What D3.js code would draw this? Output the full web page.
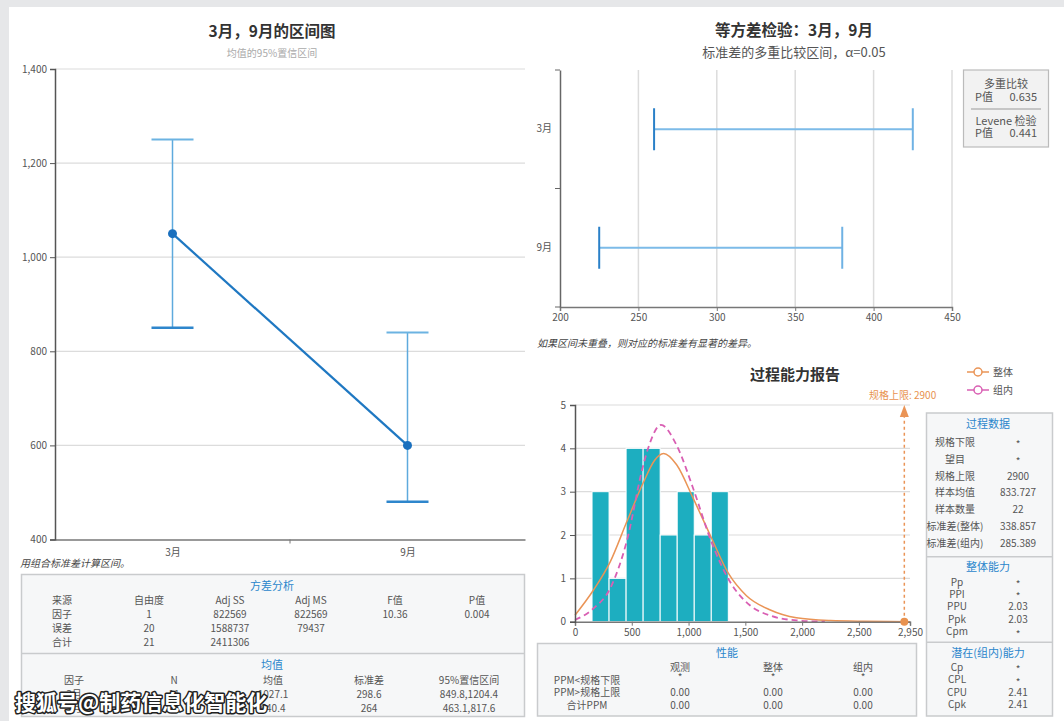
<!DOCTYPE html>
<html><head><meta charset="utf-8">
<script src="https://cdn.jsdelivr.net/npm/d3@7"></script>
<style>
body{margin:0;background:#fff}
svg{display:block}
text{font-family:"Noto Sans CJK SC","Noto Sans",sans-serif}
</style>
</head><body><svg id="c" width="1064" height="721"></svg>
<script>
// ---------- data ----------
const categories = ["3月", "9月"];
const meanValues = [1050, 600];
const ciLower = [850, 480];
const ciUpper = [1250, 840];
const meanTicks = [400, 600, 800, 1000, 1200, 1400];

const sdCategories = ["3月", "9月"];
const sdLower = [260, 225];
const sdUpper = [425, 380];
const sdTicks = [200, 250, 300, 350, 400, 450];
const multiCompP = "0.635";
const leveneP = "0.441";

const binLeft = [150, 300, 450, 600, 750, 900, 1050, 1200];
const binRight = [300, 450, 600, 750, 900, 1050, 1200, 1350];
const binCounts = [3, 1, 4, 4, 2, 3, 2, 3];
const histXTicks = [0, 500, 1000, 1500, 2000, 2500, 2950];
const histYTicks = [0, 1, 2, 3, 4, 5];
const overallCurveX = [0, 160, 310, 455, 600, 700, 780, 895, 1040, 1190, 1350, 1510, 1720, 1950, 2250, 2540, 2950];
const overallCurveY = [0.15, 0.72, 1.38, 2.3, 3.2, 3.72, 3.88, 3.62, 2.85, 2.0, 1.12, 0.6, 0.27, 0.09, 0.025, 0.008, 0];
const withinCurveX = [0, 160, 310, 455, 600, 650, 757, 895, 1040, 1200, 1365, 1540, 1720, 1950, 2200];
const withinCurveY = [0.04, 0.3, 0.77, 1.85, 3.6, 4.05, 4.54, 4.07, 3.08, 1.85, 0.92, 0.38, 0.14, 0.03, 0];
const usl = 2900;

const anovaHeader = ["来源", "自由度", "Adj SS", "Adj MS", "F值", "P值"];
const anovaRows = [
  ["因子", "1", "822569", "822569", "10.36", "0.004"],
  ["误差", "20", "1588737", "79437", "", ""],
  ["合计", "21", "2411306", "", "", ""]
];
const meansHeader = ["因子", "N", "均值", "标准差", "95%置信区间"];
const meansRows = [
  ["3月", "11", "1027.1", "298.6", "849.8,1204.4"],
  ["9月", "11", "640.4", "264", "463.1,817.6"]
];
const perfHeader = ["观测", "整体", "组内"];
const perfLabels = ["PPM<规格下限", "PPM>规格上限", "合计PPM"];
const perfRows = [["*", "*", "*"], ["0.00", "0.00", "0.00"], ["0.00", "0.00", "0.00"]];
const processLabels = ["规格下限", "望目", "规格上限", "样本均值", "样本数量", "标准差(整体)", "标准差(组内)"];
const processValues = ["*", "*", "2900", "833.727", "22", "338.857", "285.389"];
const overallCapLabels = ["Pp", "PPI", "PPU", "Ppk", "Cpm"];
const overallCapValues = ["*", "*", "2.03", "2.03", "*"];
const withinCapLabels = ["Cp", "CPL", "CPU", "Cpk"];
const withinCapValues = ["*", "*", "2.41", "2.41"];

// ---------- helpers ----------
const svg = d3.select("#c");
const TXT = "#555";
function txt(x, y, s, o = {}) {
  return svg.append("text").attr("x", x).attr("y", y).text(s)
    .attr("text-anchor", o.anchor || "middle")
    .attr("font-size", o.size || 10)
    .attr("font-weight", o.weight || "normal")
    .attr("font-style", o.style || "normal")
    .attr("fill", o.fill || TXT);
}
function styleAxis(g, col, w) {
  g.select(".domain").attr("stroke", col).attr("stroke-width", w);
  g.selectAll(".tick line").attr("stroke", col).attr("stroke-width", 1);
  g.selectAll(".tick text").attr("fill", TXT).attr("font-size", 10)
    .attr("font-family", '"Noto Sans CJK SC","Noto Sans",sans-serif');
}

// background frame
svg.append("rect").attr("x", 0).attr("y", 0).attr("width", 1064).attr("height", 721).attr("fill", "#e6e7e9");
svg.append("rect").attr("x", 9).attr("y", 7).attr("width", 1055).attr("height", 714).attr("fill", "#fff");

// ---------- left: interval plot ----------
const y1 = d3.scaleLinear().domain([400, 1400]).range([539.5, 69]);
const x1 = d3.scalePoint().domain(categories).range([55, 525]).padding(0.5);

txt(272, 37, "3月，9月的区间图", { size: 15.5, weight: "bold", fill: "#333" });
txt(272, 57, "均值的95%置信区间", { size: 10, fill: "#aaa" });

svg.append("g").selectAll("line").data(meanTicks.filter(d => d > 400)).join("line")
  .attr("x1", 55).attr("x2", 525).attr("y1", d => y1(d)).attr("y2", d => y1(d))
  .attr("stroke", "#dcdcdc").attr("stroke-width", 1.2);

const gx1 = svg.append("g").attr("transform", `translate(0,${y1(400)})`)
  .call(d3.axisBottom(x1).tickSize(0).tickPadding(9));
styleAxis(gx1, "#999", 2);
const mid1 = (x1(categories[0]) + x1(categories[1])) / 2;
svg.append("line").attr("x1", mid1).attr("x2", mid1).attr("y1", y1(400)).attr("y2", y1(400) + 4)
  .attr("stroke", "#777").attr("stroke-width", 1);
const gy1 = svg.append("g").attr("transform", "translate(55,0)")
  .call(d3.axisLeft(y1).tickValues(meanTicks).tickSize(5).tickPadding(3).tickFormat(d3.format(",")));
styleAxis(gy1, "#555", 1.5);

categories.forEach((c, i) => {
  const cx = x1(c);
  svg.append("line").attr("x1", cx).attr("x2", cx).attr("y1", y1(ciLower[i])).attr("y2", y1(ciUpper[i]))
    .attr("stroke", "#5eaadd").attr("stroke-width", 1.5);
  svg.append("line").attr("x1", cx - 21).attr("x2", cx + 21).attr("y1", y1(ciUpper[i])).attr("y2", y1(ciUpper[i]))
    .attr("stroke", "#6cb3e2").attr("stroke-width", 2);
  svg.append("line").attr("x1", cx - 21).attr("x2", cx + 21).attr("y1", y1(ciLower[i])).attr("y2", y1(ciLower[i]))
    .attr("stroke", "#2e86cc").attr("stroke-width", 2.5);
});
svg.append("path").datum(categories.map((c, i) => [x1(c), y1(meanValues[i])]))
  .attr("d", d3.line()).attr("fill", "none").attr("stroke", "#1f78c2").attr("stroke-width", 2.2);
svg.append("g").selectAll("circle").data(categories).join("circle")
  .attr("cx", d => x1(d)).attr("cy", (d, i) => y1(meanValues[i])).attr("r", 4.5).attr("fill", "#1a70be");

txt(20, 567, "用组合标准差计算区间。", { anchor: "start", style: "italic", fill: "#444" });

// ANOVA / means table
svg.append("rect").attr("x", 21.5).attr("y", 574.5).attr("width", 503).attr("height", 142)
  .attr("fill", "#f6f7f8").attr("stroke", "#c9cbcd").attr("stroke-width", 1.5);
svg.append("line").attr("x1", 21.5).attr("x2", 524.5).attr("y1", 653.5).attr("y2", 653.5)
  .attr("stroke", "#c9cbcd").attr("stroke-width", 1.5);
txt(272, 590, "方差分析", { size: 11, fill: "#2a86cc" });
const anovaX = [62, 149, 230, 311, 395, 477];
anovaHeader.forEach((h, j) => txt(anovaX[j], 604, h));
anovaRows.forEach((r, i) => r.forEach((v, j) => txt(anovaX[j], 618 + i * 14, v)));
txt(272, 669, "均值", { size: 11, fill: "#2a86cc" });
const meansX = [74, 174, 273, 369, 469];
meansHeader.forEach((h, j) => txt(meansX[j], 684, h));
meansRows.forEach((r, i) => r.forEach((v, j) => txt(meansX[j], 698 + i * 14, v)));

// ---------- right top: equal variances ----------
const x2 = d3.scaleLinear().domain([200, 450]).range([560, 952]);
const y2 = d3.scaleBand().domain(sdCategories).range([70, 307]);

txt(794, 36, "等方差检验：3月，9月", { size: 15.5, weight: "bold", fill: "#333" });
txt(794, 57, "标准差的多重比较区间，α=0.05", { size: 13, fill: "#555" });

svg.append("g").selectAll("line").data(sdTicks.filter(d => d > 200)).join("line")
  .attr("x1", d => x2(d)).attr("x2", d => x2(d)).attr("y1", 70).attr("y2", 307)
  .attr("stroke", "#dcdcdc").attr("stroke-width", 1.5);
const gx2 = svg.append("g").attr("transform", "translate(0,307)")
  .call(d3.axisBottom(x2).tickValues(sdTicks).tickSize(4).tickPadding(3));
styleAxis(gx2, "#777", 1.5);
const gy2 = svg.append("g").attr("transform", "translate(560,0)")
  .call(d3.axisLeft(y2).tickSize(0).tickPadding(8));
styleAxis(gy2, "#666", 1.5);
const bandEdges = [70, y2(sdCategories[1]), 307];
svg.append("g").selectAll("line").data(bandEdges).join("line")
  .attr("x1", 555).attr("x2", 560).attr("y1", d => d).attr("y2", d => d)
  .attr("stroke", "#666").attr("stroke-width", 1);

sdCategories.forEach((c, i) => {
  const cy = y2(c) + y2.bandwidth() / 2;
  svg.append("line").attr("x1", x2(sdLower[i])).attr("x2", x2(sdUpper[i])).attr("y1", cy).attr("y2", cy)
    .attr("stroke", "#7dbbe8").attr("stroke-width", 2);
  svg.append("line").attr("x1", x2(sdLower[i])).attr("x2", x2(sdLower[i])).attr("y1", cy - 21).attr("y2", cy + 21)
    .attr("stroke", "#2a80c8").attr("stroke-width", 2);
  svg.append("line").attr("x1", x2(sdUpper[i])).attr("x2", x2(sdUpper[i])).attr("y1", cy - 21).attr("y2", cy + 21)
    .attr("stroke", "#6fb2e4").attr("stroke-width", 2);
});

svg.append("rect").attr("x", 963.5).attr("y", 70).attr("width", 85).attr("height", 77)
  .attr("fill", "#f2f2f2").attr("stroke", "#bbb").attr("stroke-width", 1.2);
txt(1006, 88, "多重比较", { size: 11 });
txt(975, 101, "P值", { size: 11, anchor: "start" });
txt(1037, 101, multiCompP, { size: 11, anchor: "end" });
svg.append("line").attr("x1", 971).attr("x2", 1041).attr("y1", 109).attr("y2", 109).attr("stroke", "#999").attr("stroke-width", 1.2);
txt(1006, 125, "Levene 检验", { size: 11 });
txt(975, 137, "P值", { size: 11, anchor: "start" });
txt(1037, 137, leveneP, { size: 11, anchor: "end" });

txt(537, 347, "如果区间未重叠，则对应的标准差有显著的差异。", { anchor: "start", style: "italic", fill: "#444" });

// ---------- right bottom: capability ----------
const x3 = d3.scaleLinear().domain([0, 2950]).range([575, 910]);
const y3 = d3.scaleLinear().domain([0, 5]).range([621.7, 405]);

txt(795, 380, "过程能力报告", { size: 15, weight: "bold", fill: "#333" });

svg.append("g").selectAll("line").data(histYTicks.filter(d => d > 0)).join("line")
  .attr("x1", 575).attr("x2", 910).attr("y1", d => y3(d)).attr("y2", d => y3(d))
  .attr("stroke", "#dcdcdc").attr("stroke-width", 1.2);

svg.append("g").selectAll("rect").data(binCounts).join("rect")
  .attr("x", (d, i) => x3(binLeft[i])).attr("width", (d, i) => x3(binRight[i]) - x3(binLeft[i]))
  .attr("y", d => y3(d)).attr("height", d => y3(0) - y3(d))
  .attr("fill", "#1daec0").attr("stroke", "#fff").attr("stroke-width", 1);

const curveLine = d3.line().x(d => x3(d[0])).y(d => y3(d[1])).curve(d3.curveMonotoneX);
svg.append("path").datum(overallCurveX.map((x, i) => [x, overallCurveY[i]])).attr("d", curveLine)
  .attr("fill", "none").attr("stroke", "#ea9456").attr("stroke-width", 1.5);
svg.append("path").datum(withinCurveX.map((x, i) => [x, withinCurveY[i]])).attr("d", curveLine)
  .attr("fill", "none").attr("stroke", "#d95fb3").attr("stroke-width", 1.8).attr("stroke-dasharray", "6,4");

const gx3 = svg.append("g").attr("transform", `translate(0,${y3(0)})`)
  .call(d3.axisBottom(x3).tickValues(histXTicks).tickSize(4).tickPadding(3).tickFormat(d3.format(",")));
styleAxis(gx3, "#777", 1.5);
const gy3 = svg.append("g").attr("transform", "translate(575,0)")
  .call(d3.axisLeft(y3).tickValues(histYTicks).tickSize(5).tickPadding(4).tickFormat(d3.format("d")));
styleAxis(gy3, "#555", 1.5);

// USL marker
const ux = x3(usl);
svg.append("line").attr("x1", ux).attr("x2", ux).attr("y1", y3(0)).attr("y2", y3(5) + 6)
  .attr("stroke", "#ea9456").attr("stroke-width", 1.5).attr("stroke-dasharray", "3,3");
svg.append("path").attr("d", `M${ux},${y3(5)} L${ux - 4.5},${y3(5) + 12} L${ux + 4.5},${y3(5) + 12} Z`).attr("fill", "#ea9456");
svg.append("circle").attr("cx", ux).attr("cy", y3(0)).attr("r", 4).attr("fill", "#e8924f");
txt(869, 399, "规格上限: 2900", { anchor: "start", fill: "#e8924f" });

// legend
[["整体", "#ea9456", 372], ["组内", "#d95fb3", 390]].forEach(([lab, col, yy]) => {
  svg.append("line").attr("x1", 967).attr("x2", 989).attr("y1", yy).attr("y2", yy).attr("stroke", col).attr("stroke-width", 1.5);
  svg.append("circle").attr("cx", 978).attr("cy", yy).attr("r", 4).attr("fill", "#fff").attr("stroke", col).attr("stroke-width", 1.5);
  txt(993, yy + 4, lab, { anchor: "start" });
});

// performance box
svg.append("rect").attr("x", 537.5).attr("y", 643.5).attr("width", 379).attr("height", 72.5)
  .attr("fill", "#f6f7f8").attr("stroke", "#c9cbcd").attr("stroke-width", 1.5);
txt(727, 657, "性能", { size: 11, fill: "#2a86cc" });
const perfX = [680, 773, 863];
perfHeader.forEach((h, j) => txt(perfX[j], 671, h));
perfLabels.forEach((l, i) => txt(587, 684 + i * 12.3, l));
perfRows.forEach((r, i) => r.forEach((v, j) => txt(perfX[j], (i === 0 ? 681 : 684 + i * 12.3), v)));

// process data box
svg.append("rect").attr("x", 926.5).attr("y", 413).attr("width", 126).attr("height", 303)
  .attr("fill", "#f6f7f8").attr("stroke", "#c9cbcd").attr("stroke-width", 1.5);
[556.7, 642.3].forEach(yy => svg.append("line").attr("x1", 926.5).attr("x2", 1052.5).attr("y1", yy).attr("y2", yy)
  .attr("stroke", "#c9cbcd").attr("stroke-width", 1.5));
txt(988, 428, "过程数据", { size: 11, fill: "#2a86cc" });
processLabels.forEach((l, i) => {
  txt(955, 446 + i * 16.8, l);
  txt(1018, (processValues[i] === "*" ? 448 : 446) + i * 16.8, processValues[i]);
});
txt(988, 571, "整体能力", { size: 11, fill: "#2a86cc" });
overallCapLabels.forEach((l, i) => {
  txt(957, 585.5 + i * 12.4, l);
  txt(1018, (overallCapValues[i] === "*" ? 588 : 585.5) + i * 12.4, overallCapValues[i]);
});
txt(988, 657, "潜在(组内)能力", { size: 11, fill: "#2a86cc" });
withinCapLabels.forEach((l, i) => {
  txt(957, 670.5 + i * 12.6, l);
  txt(1018, (withinCapValues[i] === "*" ? 673 : 670.5) + i * 12.6, withinCapValues[i]);
});

// watermark
svg.append("text").attr("x", 15).attr("y", 710).text("搜狐号@制药信息化智能化")
  .attr("font-size", 21).attr("font-weight", "bold").attr("fill", "#fff")
  .attr("stroke", "#222").attr("stroke-width", 3).attr("paint-order", "stroke")
  .attr("stroke-linejoin", "round");
</script>
</body></html>
